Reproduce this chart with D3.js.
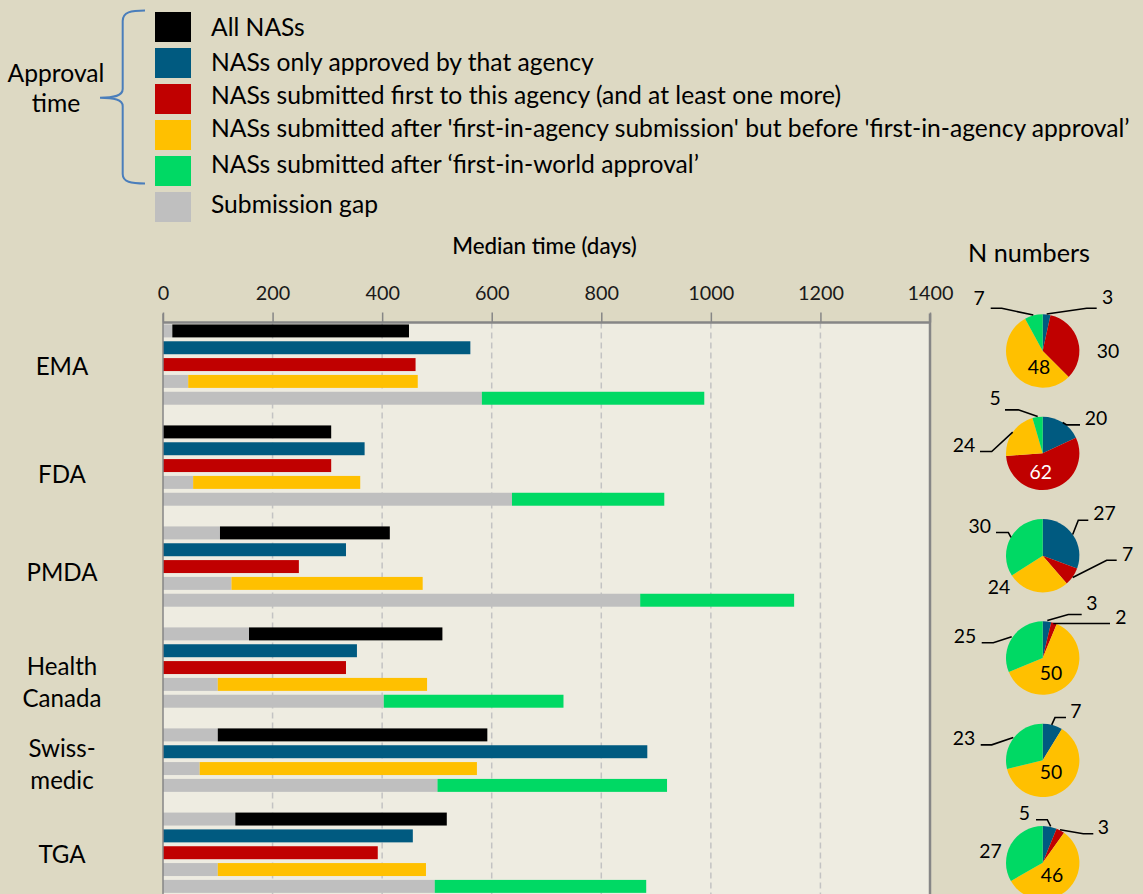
<!DOCTYPE html>
<html><head><meta charset="utf-8">
<script src="https://cdn.jsdelivr.net/npm/d3@7"></script>
<style>
html,body{margin:0;padding:0;background:#DDD9C3;}
svg{display:block;font-family:Lato,"Open Sans",sans-serif;}
</style></head>
<body><svg id="c" width="1143" height="894"></svg>
<script>
// ---------------- data ----------------
const agencies = ["EMA", "FDA", "PMDA", "Health Canada", "Swissmedic", "TGA"];
const agencyLines = [["EMA"], ["FDA"], ["PMDA"], ["Health", "Canada"], ["Swiss-", "medic"], ["TGA"]];
const seriesKeys = ["all", "only", "first", "afterSub", "afterWorld"];
const legendNames = [
  "All NASs",
  "NASs only approved by that agency",
  "NASs submitted first to this agency (and at least one more)",
  "NASs submitted after 'first-in-agency submission' but before 'first-in-agency approval\u2019",
  "NASs submitted after \u2018first-in-world approval\u2019",
  "Submission gap"
];
const tickValues = [0, 200, 400, 600, 800, 1000, 1200, 1400];
// submission gap (days) and approval time (days) per series, per agency
const gapAll        = [17, 0, 104, 157, 100, 132];
const timeAll       = [432, 307, 310, 353, 492, 386];
const gapOnly       = [0, 0, 0, 0, 0, 0];
const timeOnly      = [561, 368, 334, 354, 884, 456];
const gapFirst      = [0, 0, 0, 0, null, 0];
const timeFirst     = [461, 307, 248, 334, null, 392];
const gapAfterSub   = [46, 55, 125, 100, 67, 100];
const timeAfterSub  = [419, 305, 349, 382, 506, 380];
const gapAfterWorld = [582, 637, 871, 403, 501, 496];
const timeAfterWorld= [406, 278, 281, 328, 419, 386];
// N numbers per agency (pie): only, first, afterSub, afterWorld
const nOnly       = [3, 20, 27, 3, 7, 5];
const nFirst      = [30, 62, 7, 2, 0, 3];
const nAfterSub   = [48, 24, 24, 50, 50, 46];
const nAfterWorld = [7, 5, 30, 25, 23, 27];

// ---------------- styles / layout ----------------
const colors = {all:"#000000", only:"#005A80", first:"#C00000", afterSub:"#FFC000", afterWorld:"#00D964", gap:"#BFBFBF"};
const legendColors = [colors.all, colors.only, colors.first, colors.afterSub, colors.afterWorld, colors.gap];
const gaps = {all:gapAll, only:gapOnly, first:gapFirst, afterSub:gapAfterSub, afterWorld:gapAfterWorld};
const times = {all:timeAll, only:timeOnly, first:timeFirst, afterSub:timeAfterSub, afterWorld:timeAfterWorld};

const svg = d3.select("#c");
const plotL = 163, plotR = 930, plotT = 322.5, plotB = 894.8;
const FONT_TXT = "#000";

// font fitting helper: size so that `str` renders at target width
function fitSize(str, target, base){
  const t = svg.append("text").attr("font-size", base).text(str);
  const w = t.node().getComputedTextLength();
  t.remove();
  return base * target / w;
}
const fsLegend = fitSize(legendNames[3], 919, 22);
const fsCat = fitSize("Canada", 79, 22);
const fsTick = fitSize("1400", 46, 20);
const fsTitle = fitSize("Median time (days)", 184, 19);
const fsN = fitSize("N numbers", 122, 24);
const fsPie = fitSize("30", 22.5, 20);
const fsAppr = fitSize("Approval", 97, 22);

// ---------------- legend ----------------
const legY = d3.scaleLinear().domain([0, 5]).range([12, 192]);
const legBaselines = [36, 70.7, 104, 136.7, 173.3, 213.3];
const leg = svg.append("g");
leg.selectAll("rect").data(legendNames).join("rect")
  .attr("x", 155).attr("y", (d,i)=>legY(i)).attr("width", 36).attr("height", 30)
  .attr("fill", (d,i)=>legendColors[i]);
leg.selectAll("text").data(legendNames).join("text")
  .attr("x", 211).attr("y", (d,i)=>legBaselines[i])
  .attr("font-size", fsLegend).attr("fill", FONT_TXT).text(d=>d);
// brace
svg.append("path")
  .attr("d", "M145,10.5 C131,10.5 122.7,12 122.7,21 L122.7,89 C122.7,96 114,97.7 100,97.7 C114,97.7 122.7,99.5 122.7,106 L122.7,174 C122.7,182 131,183.5 145,183.5")
  .attr("fill", "none").attr("stroke", "#4A7EBB").attr("stroke-width", 2);
svg.append("text").attr("x", 56).attr("y", 82).attr("text-anchor", "middle")
  .attr("font-size", fsAppr).text("Approval");
svg.append("text").attr("x", 56).attr("y", 112).attr("text-anchor", "middle")
  .attr("font-size", fsAppr).text("time");

// ---------------- bar chart ----------------
const x = d3.scaleLinear().domain([0, 1400]).range([plotL, plotR]);

// rows: each agency's present series, then a blank spacer row
const rows = [];
agencies.forEach((a, i) => {
  seriesKeys.forEach(k => { if (times[k][i] != null) rows.push({key: a + "|" + k, agency: i, series: k}); });
  if (i < agencies.length - 1) rows.push({key: a + "|blank", agency: i, series: null});
});
const y = d3.scaleBand().domain(rows.map(r=>r.key)).range([plotT, plotB])
  .paddingInner(0.23).paddingOuter(0.115);

svg.append("rect").attr("x", plotL).attr("y", plotT).attr("width", plotR - plotL).attr("height", plotB - plotT)
  .attr("fill", "#EEECE1");

// gridlines
svg.append("g").selectAll("line").data(tickValues.filter(v => v > 0 && v < 1400)).join("line")
  .attr("x1", d=>x(d)).attr("x2", d=>x(d)).attr("y1", plotT).attr("y2", plotB)
  .attr("stroke", "#C3C3C3").attr("stroke-width", 1.5).attr("stroke-dasharray", "6,4");

// axis
const axis = d3.axisTop(x).tickValues(tickValues).tickSize(10).tickPadding(13).tickFormat(d3.format("d"));
const ax = svg.append("g").attr("transform", `translate(0,${plotT})`).call(axis);
ax.select(".domain").remove();
ax.selectAll(".tick line").attr("stroke", "#868686").attr("stroke-width", 1.5);
ax.selectAll(".tick text").attr("font-size", fsTick).attr("fill", "#1a1a1a")
  .attr("font-family", "Lato, 'Open Sans', sans-serif");

svg.append("text").attr("x", (x(0)+x(1400))/2 - 2).attr("y", 254).attr("text-anchor", "middle")
  .attr("font-size", fsTitle).attr("fill", "#000").style("font-weight", 500).text("Median time (days)");

// bars
const barRows = rows.filter(r => r.series);
const bars = svg.append("g");
bars.selectAll("rect.gap").data(barRows.filter(r => gaps[r.series][r.agency] > 0)).join("rect")
  .attr("class", "gap")
  .attr("x", x(0)).attr("y", r=>y(r.key))
  .attr("width", r => x(gaps[r.series][r.agency]) - x(0))
  .attr("height", y.bandwidth()).attr("fill", colors.gap);
bars.selectAll("rect.val").data(barRows).join("rect")
  .attr("class", "val")
  .attr("x", r => x(gaps[r.series][r.agency]))
  .attr("y", r=>y(r.key))
  .attr("width", r => x(gaps[r.series][r.agency] + times[r.series][r.agency]) - x(gaps[r.series][r.agency]))
  .attr("height", y.bandwidth()).attr("fill", r => colors[r.series]);

// frame
svg.append("line").attr("x1", plotL).attr("x2", plotR).attr("y1", plotT).attr("y2", plotT)
  .attr("stroke", "#868686").attr("stroke-width", 2.5);
svg.append("line").attr("x1", plotL).attr("x2", plotL).attr("y1", plotT - 9).attr("y2", plotB)
  .attr("stroke", "#868686").attr("stroke-width", 1.5);
svg.append("line").attr("x1", plotR).attr("x2", plotR).attr("y1", plotT - 9).attr("y2", plotB)
  .attr("stroke", "#868686").attr("stroke-width", 2.5);

// category labels
const catBaselines = [[375], [483], [581], [675, 707], [757, 789], [863]];
const cat = svg.append("g");
agencyLines.forEach((lines, i) => {
  lines.forEach((t, j) => {
    cat.append("text").attr("x", 62).attr("y", catBaselines[i][j]).attr("text-anchor", "middle")
      .attr("font-size", fsCat).attr("fill", "#000").text(t);
  });
});

// ---------------- pies ----------------
svg.append("text").attr("x", 1029).attr("y", 262).attr("text-anchor", "middle")
  .attr("font-size", fsN).attr("fill", "#000").text("N numbers");

const pieKeys = ["only", "first", "afterSub", "afterWorld"];
const pieCounts = {only:nOnly, first:nFirst, afterSub:nAfterSub, afterWorld:nAfterWorld};
const pieX = 1042.7, pieR = 36.7;
const pieY = d3.scaleLinear().domain([0, 5]).range([351, 862.7]);
const pie = d3.pie().sort(null).value(d => d.n);
const arc = d3.arc().innerRadius(0).outerRadius(pieR);

// label layout per agency: offsets from pie centre [series, dx, dy(baseline), leader points, colour]
const pieLabels = [
  [["afterWorld",-63.7,-46,[[-52,-42.7],[-41,-42.7],[-9.4,-36]]], ["only",65,-47,[[54,-42.7],[44,-42.7],[4,-37]]],
   ["first",65.3,7,null], ["afterSub",-3.7,23,null]],
  [["afterWorld",-47.7,-48.5,[[-37.7,-43.5],[-24.4,-43.5],[-5,-36.8]]], ["only",53.3,-28.5,[[37.3,-28.5],[24,-28.5],[20,-30.8]]],
   ["afterSub",-78.7,-1.8,[[-62.7,-1.8],[-51,-1.8],[-30,-21.2]]], ["first",-2,25.5,null,"#fff"]],
  [["afterWorld",-63,-22.5,[[-46.7,-23.2],[-34.4,-23.2],[-31.7,-18.2]]], ["only",61.8,-35.5,[[45.6,-35.5],[35.6,-35.5],[30,-21.2]]],
   ["first",85,5.5,[[74,4.5],[64,4.5],[30,21.8]]], ["afterSub",-43.7,38.5,null]],
  [["only",49.3,-47.8,[[39,-43.5],[25.6,-43.5],[4.6,-37.5]]], ["first",78.3,-34.5,[[67.3,-34.5],[10.6,-34.5]]],
   ["afterWorld",-77.7,-15.5,[[-61,-15.2],[-49.4,-15.2],[-31,-21.2]]], ["afterSub",8.3,21.5,null]],
  [["only",33.3,-42.5,[[23.3,-42.8],[12.3,-42.8],[9,-35.5]]], ["afterWorld",-78.7,-15.5,[[-62,-15.5],[-51,-15.5],[-29.4,-22.8]]],
   ["afterSub",8.3,18.5,null]],
  [["only",-18.4,-42.3,[[-6.7,-43],[4.6,-43],[8,-36.3]]], ["first",60.6,-29,[[50.6,-29],[40.6,-29],[17.3,-33]]],
   ["afterWorld",-52.2,-5,null], ["afterSub",9.3,19.7,null]]
];

agencies.forEach((a, i) => {
  const g = svg.append("g").attr("transform", `translate(${pieX},${pieY(i)})`);
  const d = pieKeys.map(k => ({k, n: pieCounts[k][i]}));
  g.selectAll("path").data(pie(d)).join("path").attr("d", arc).attr("fill", s => colors[s.data.k]);
  const line = d3.line();
  pieLabels[i].forEach(([k, dx, dy, pts, col]) => {
    if (pts) g.append("path").attr("d", line(pts)).attr("fill", "none").attr("stroke", "#000").attr("stroke-width", 1.6);
    g.append("text").attr("x", dx).attr("y", dy).attr("text-anchor", "middle")
      .attr("font-size", fsPie).attr("fill", col || "#000").text(pieCounts[k][i]);
  });
});
</script></body></html>
